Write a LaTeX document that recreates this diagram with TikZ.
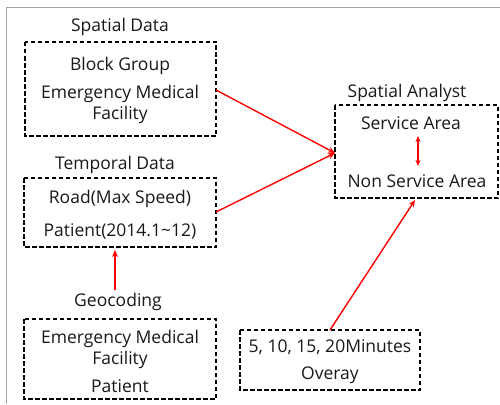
\documentclass[tikz,border=0pt]{standalone}
\usepackage{fontspec}
\setmainfont{Open Sans}
\usetikzlibrary{arrows.meta}
\begin{document}
\begin{tikzpicture}[x=1pt,y=-1pt,
  databox/.style={draw=black,line width=1.6pt,dash pattern=on 4.5pt off 2.5pt,fill=none},
  txt/.style={inner sep=0pt,anchor=center,yshift=-2pt,font=\fontsize{17.5}{20}\selectfont,text=black!90},
  link/.style={draw=red,line width=1.4pt,-{Stealth[length=7pt,width=6pt]}},
  both/.style={draw=red,line width=1.4pt,{Stealth[length=6pt,width=5pt]}-{Stealth[length=6pt,width=5pt]}}]
\useasboundingbox (0,0) rectangle (500,404);
% outer frame edges
\draw[gray!70,line width=1.5pt] (6.5,404) -- (6.5,7.5) -- (500,7.5);

% Spatial data block
\node[txt] (tsd) at (120,25) {Spatial Data};
\draw[databox] (25,42) rectangle (216,136);
\coordinate (b1r) at (216,90);
\node[txt] (bg) at (120,64) {Block Group};
\node[txt] (emf1) at (120,92) {Emergency Medical};
\node[txt] (fac1) at (120,113) {Facility};

% Temporal data block
\node[txt] (ttd) at (115,163) {Temporal Data};
\draw[databox] (24,178) rectangle (216,247);
\coordinate (b2r) at (216,212);
\coordinate (b2b) at (115,250);
\node[txt] (road) at (120,197) {Road(Max Speed)};
\node[txt] (pat) at (120,229) {Patient(2014.1\textasciitilde12)};

% Geocoding block
\node[txt] (geo) at (118,300) {Geocoding};
\draw[databox] (24,319) rectangle (216,399);
\node[txt] (emf2) at (120,337) {Emergency Medical};
\node[txt] (fac2) at (120,358) {Facility};
\node[txt] (pat2) at (120,384) {Patient};

% Spatial analyst block
\node[txt] (tsa) at (407,91) {Spatial Analyst};
\draw[databox] (335,105) rectangle (498,198);
\coordinate (b4l) at (335,153);
\coordinate (b4b) at (415,200);
\node[txt] (sa) at (411,121) {Service Area};
\node[txt] (nsa) at (417,179) {Non Service Area};
\coordinate (dt) at (418,136);
\coordinate (db) at (418,166);

% Overlay block
\draw[databox] (240,330) rectangle (420,390);
\coordinate (b5t) at (330,330);
\node[txt] (mins) at (330,345) {5, 10, 15, 20Minutes};
\node[txt] (ov) at (330,373) {Overay};

% connectors
\draw[link] (b1r) -- (b4l);
\draw[link] (b2r) -- (b4l);
\draw[link] (115,290) -- (b2b);
\draw[link] (b5t) -- (b4b);
\draw[both] (dt) -- (db);
\end{tikzpicture}
\end{document}
